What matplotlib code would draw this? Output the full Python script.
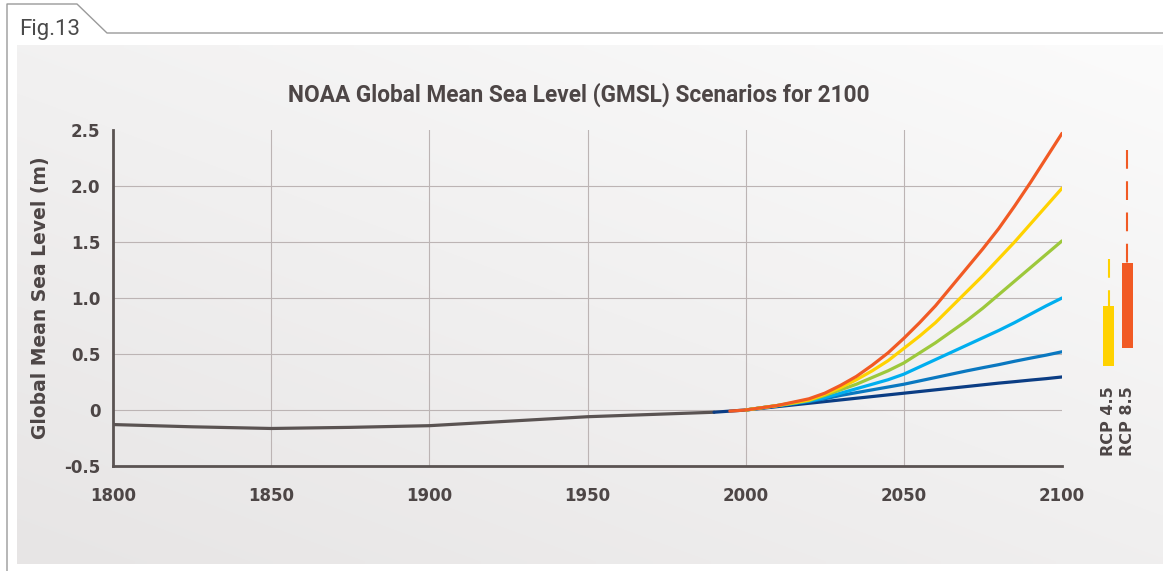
import numpy as np
import matplotlib
matplotlib.use("Agg")
import matplotlib.pyplot as plt
from matplotlib.patches import Rectangle

# 数据
hist_years = [1800, 1825, 1850, 1875, 1900, 1925, 1950, 1970, 1990]
hist_gmsl = [-0.13, -0.15, -0.165, -0.155, -0.14, -0.10, -0.06, -0.04, -0.02]

scen_years = list(range(2000, 2101, 5))
low = [0, 0.015, 0.03, 0.045, 0.06, 0.075, 0.09, 0.105, 0.12, 0.135, 0.15,
       0.165, 0.18, 0.195, 0.21, 0.225, 0.24, 0.253, 0.267, 0.28, 0.295]
int_low = [0, 0.02, 0.035, 0.055, 0.075, 0.10, 0.13, 0.155, 0.18, 0.205, 0.23,
           0.26, 0.29, 0.32, 0.35, 0.378, 0.405, 0.435, 0.463, 0.49, 0.52]
intermediate = [0, 0.02, 0.04, 0.06, 0.08, 0.11, 0.15, 0.19, 0.23, 0.27, 0.32,
                0.385, 0.45, 0.515, 0.58, 0.645, 0.71, 0.78, 0.855, 0.93, 1.00]
int_high = [0, 0.02, 0.04, 0.06, 0.085, 0.13, 0.18, 0.23, 0.29, 0.35, 0.42,
            0.51, 0.60, 0.70, 0.80, 0.91, 1.03, 1.15, 1.27, 1.39, 1.51]
high = [0, 0.02, 0.04, 0.065, 0.09, 0.14, 0.20, 0.27, 0.35, 0.44, 0.55,
        0.66, 0.78, 0.92, 1.06, 1.20, 1.35, 1.50, 1.66, 1.82, 1.98]
extreme = [0, 0.02, 0.04, 0.07, 0.10, 0.15, 0.22, 0.30, 0.40, 0.51, 0.64,
           0.78, 0.93, 1.10, 1.27, 1.44, 1.62, 1.82, 2.03, 2.25, 2.47]

scenarios = [low, int_low, intermediate, int_high, high, extreme]
scen_colors = ["#0b3d84", "#0a78c0", "#00aeef", "#9dc83b", "#ffd200", "#f15a24"]
# 起点 (深蓝和橙色起点略早)
scen_start = [(1990, -0.02), None, None, None, None, (1995, -0.01)]

rcp_names = ["RCP 4.5", "RCP 8.5"]
rcp_low = [0.39, 0.55]
rcp_high = [0.93, 1.31]
rcp_max = [1.35, 2.32]
rcp_colors = ["#ffd200", "#f15a24"]
rcp_x = [2114.7, 2120.7]

xticks = [1800, 1850, 1900, 1950, 2000, 2050, 2100]
yticks = [-0.5, 0, 0.5, 1.0, 1.5, 2.0, 2.5]
ytick_labels = ["-0.5", "0", "0.5", "1.0", "1.5", "2.0", "2.5"]

text_color = "#4d4646"
axis_color = "#5a5352"

W, H = 1163, 571
fig = plt.figure(figsize=(W / 100, H / 100), dpi=100)

# 背景面板
bg = fig.add_axes([0, 0, 1, 1])
bg.set_xlim(0, W)
bg.set_ylim(H, 0)
bg.axis("off")
gx, gy = np.meshgrid(np.linspace(0, 1, 200), np.linspace(0, 1, 100))
t = np.clip(0.55 * gy + 0.45 * (1 - gx), 0, 1)
c0 = np.array([251, 251, 251]) / 255
c1 = np.array([231, 229, 229]) / 255
img = c0[None, None, :] * (1 - t[..., None]) + c1[None, None, :] * t[..., None]
bg.imshow(img, extent=[17, W, 564, 45], aspect="auto", interpolation="bilinear")
frame_c = "#9a9a9a"
bg.plot([7, 7, 77, 107, W], [H, 4, 4, 33, 33], color=frame_c, lw=1.0)
bg.text(19, 29, "Fig.13", fontsize=16, family="Roboto", color="#4a4a4a", va="center", ha="left")

# 主图
ax = fig.add_axes([113 / W, (H - 466) / H, (1062 - 113) / W, (466 - 130) / H])
ax.patch.set_alpha(0)
ax.set_xlim(1800, 2100)
ax.set_ylim(-0.5, 2.5)

for x in xticks[1:-1]:
    ax.axvline(x, color="#bcb4b4", lw=0.8, zorder=0)
for y in yticks[1:-1]:
    ax.axhline(y, color="#bcb4b4", lw=0.8, zorder=0)

ax.plot(hist_years, hist_gmsl, color=axis_color, lw=2.3, solid_capstyle="round", zorder=3)
for vals, col, st in zip(scenarios, scen_colors, scen_start):
    xs = list(scen_years)
    ys = list(vals)
    if st is not None:
        xs = [st[0]] + xs
        ys = [st[1]] + ys
    ax.plot(xs, ys, color=col, lw=2.3, solid_capstyle="round", solid_joinstyle="round", zorder=3)

# RCP 范围
bw = 3.5
for name, lo, hi, mx, col, xc in zip(rcp_names, rcp_low, rcp_high, rcp_max, rcp_colors, rcp_x):
    ax.add_patch(Rectangle((xc - bw / 2, lo), bw, hi - lo, color=col, clip_on=False, lw=0))
    ax.plot([xc, xc], [mx, hi], color=col, lw=1.5, linestyle=(0, (9, 6)), clip_on=False)
    ax.text(xc, -0.41, name, rotation=90, ha="center", va="bottom", fontsize=11.5,
            fontweight="bold", color=text_color, clip_on=False)

for s in ["top", "right"]:
    ax.spines[s].set_visible(False)
for s in ["left", "bottom"]:
    ax.spines[s].set_color(axis_color)
    ax.spines[s].set_linewidth(2.0)

ax.set_xticks(xticks)
ax.set_yticks(yticks)
ax.set_yticklabels(ytick_labels)
ax.tick_params(length=0, labelsize=12, labelcolor=text_color)
ax.tick_params(axis="x", pad=15)
ax.tick_params(axis="y", pad=9)
for lab in ax.get_xticklabels() + ax.get_yticklabels():
    lab.set_fontweight("bold")

ax.set_ylabel("Global Mean Sea Level (m)", fontsize=13.5, fontweight="bold", color=text_color, labelpad=10)

fig.text(579 / W, 1 - 95 / H, "NOAA Global Mean Sea Level (GMSL) Scenarios for 2100",
         ha="center", va="center", fontsize=16.3, fontweight="bold", family="Roboto", color=text_color)

fig.savefig("out.png", dpi=100)
